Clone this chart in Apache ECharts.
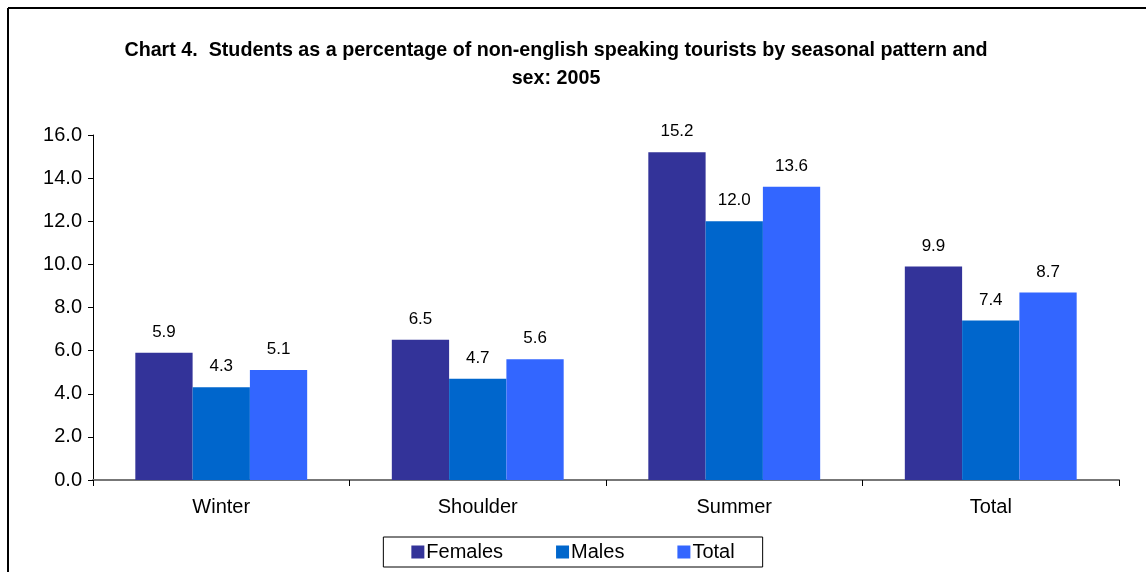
<!DOCTYPE html>
<html>
<head>
<meta charset="utf-8">
<script src="https://cdn.jsdelivr.net/npm/echarts@6/dist/echarts.min.js"></script>
<style>
  html, body { margin: 0; padding: 0; background: #fff; }
  #chart { width: 1146px; height: 572px; }
</style>
</head>
<body>
<div id="chart"></div>
<script>
const categories = ['Winter', 'Shoulder', 'Summer', 'Total'];
const females = [5.9, 6.5, 15.2, 9.9];
const males = [4.3, 4.7, 12.0, 7.4];
const total = [5.1, 5.6, 13.6, 8.7];
const yTicks = { min: 0, max: 16, interval: 2 };

const font = 'Liberation Sans, Arial, sans-serif';

const mkSeries = (name, data, color) => ({
  name,
  type: 'bar',
  data,
  barGap: 0,
  barCategoryGap: '33%',
  itemStyle: { color },
  label: {
    show: true,
    position: 'top',
    distance: 12,
    color: '#000',
    fontFamily: font,
    fontSize: 17,
    formatter: (p) => p.value.toFixed(1)
  }
});

const chart = echarts.init(document.getElementById('chart'));
chart.setOption({
  backgroundColor: '#fff',
  animation: false,
  title: {
    text: 'Chart 4.  Students as a percentage of non-english speaking tourists by seasonal pattern and\nsex: 2005',
    left: 551,
    textAlign: 'center',
    top: 32,
    textStyle: {
      fontFamily: font,
      fontWeight: 'bold',
      fontSize: 19.7,
      lineHeight: 28,
      color: '#000'
    }
  },
  grid: { left: 93, right: 27, top: 135, bottom: 92 },
  legend: {
    bottom: 5,
    left: 'center',
    itemWidth: 13,
    itemHeight: 13,
    itemGap: 53,
    icon: 'rect',
    borderColor: '#000',
    borderWidth: 1,
    padding: [5, 28, 5, 28],
    textStyle: { fontFamily: font, fontSize: 20, color: '#000', padding: [0, 0, 0, -3] },
    data: ['Females', 'Males', 'Total']
  },
  xAxis: {
    type: 'category',
    data: categories,
    axisLine: { lineStyle: { color: '#777', width: 2 } },
    axisTick: { show: true, length: 6, lineStyle: { color: '#000' } },
    axisLabel: { fontFamily: font, fontSize: 20, color: '#000', margin: 17 }
  },
  yAxis: {
    type: 'value',
    min: yTicks.min,
    max: yTicks.max,
    interval: yTicks.interval,
    axisLine: { show: true, lineStyle: { color: '#000' } },
    axisTick: { show: true, length: 5, lineStyle: { color: '#000' } },
    splitLine: { show: false },
    axisLabel: {
      fontFamily: font, fontSize: 20, color: '#000', margin: 11,
      formatter: (v) => v.toFixed(1)
    }
  },
  graphic: [
    { type: 'line', shape: { x1: 8, y1: 8, x2: 1146, y2: 8 }, style: { stroke: '#000', lineWidth: 2 } },
    { type: 'line', shape: { x1: 8, y1: 8, x2: 8, y2: 572 }, style: { stroke: '#000', lineWidth: 2 } }
  ],
  series: [
    mkSeries('Females', females, '#333399'),
    mkSeries('Males', males, '#0066CC'),
    mkSeries('Total', total, '#3366FF')
  ]
});
</script>
</body>
</html>
